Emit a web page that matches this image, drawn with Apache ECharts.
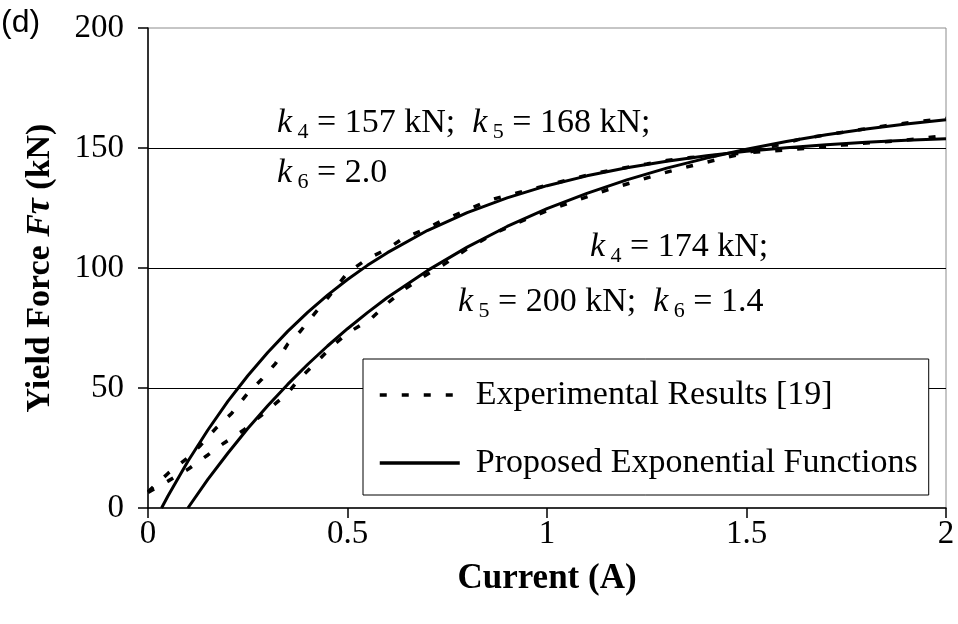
<!DOCTYPE html>
<html>
<head>
<meta charset="utf-8">
<script src="https://cdn.jsdelivr.net/npm/echarts@6/dist/echarts.min.js"></script>
<style>
html,body{margin:0;padding:0;background:#fff;}
#chart{width:958px;height:624px;}
</style>
</head>
<body>
<div id="chart"></div>
<script>
// ---- data ----
const xTicks = [0, 0.5, 1, 1.5, 2];
const yTicks = [0, 50, 100, 150, 200];

// Experimental Results [19] – set 1 (k4=157, k5=168, k6=2.0)
const expCurrent1 = [0, 0.05, 0.1, 0.13, 0.17, 0.21, 0.25, 0.285, 0.32, 0.35, 0.38, 0.42, 0.45, 0.5, 0.55, 0.6, 0.64, 0.69, 0.74, 0.8, 0.86, 0.93, 1.0, 1.06, 1.12, 1.18, 1.25, 1.3, 1.36, 1.43, 1.5, 1.56, 1.62, 1.68, 1.74, 1.81, 1.88, 1.94, 2.0];
const expForce1   = [6.8, 14.4, 21, 25.8, 33.2, 39.5, 47.8, 53.6, 60.3, 68.3, 73.3, 81.5, 87.4, 98, 103.8, 108, 112.4, 115.8, 120, 124.2, 128.5, 131.5, 134.5, 137, 139.5, 141.3, 143.3, 144.8, 146, 147, 148, 148.7, 149.5, 150.3, 151.2, 152.2, 153, 154, 155.2];

// Experimental Results [19] – set 2 (k4=174, k5=200, k6=1.4)
const expCurrent2 = [0, 0.05, 0.1, 0.15, 0.19, 0.24, 0.3, 0.35, 0.38, 0.42, 0.46, 0.5, 0.56, 0.6, 0.64, 0.69, 0.74, 0.8, 0.875, 0.95, 1.01, 1.08, 1.15, 1.22, 1.29, 1.36, 1.43, 1.5, 1.56, 1.63, 1.7, 1.79, 1.85, 1.92, 2.0];
const expForce2   = [6.5, 11.2, 16.1, 22.1, 27, 32.5, 40.8, 47.8, 54, 60.3, 67.2, 72.8, 79, 85.3, 90.8, 96.4, 101.3, 108, 115, 120.5, 124.5, 128.5, 132.5, 136, 139.5, 142.5, 145.3, 148, 150.5, 153.5, 155.5, 157.8, 159.3, 160.8, 162.3];

// Proposed Exponential Functions – curve 1
const fitCurrent1 = [0.034, 0.05, 0.1, 0.15, 0.2, 0.25, 0.3, 0.35, 0.4, 0.45, 0.5, 0.55, 0.6, 0.7, 0.8, 0.9, 1.0, 1.1, 1.2, 1.3, 1.4, 1.5, 1.6, 1.7, 1.8, 1.9, 2.0];
const fitForce1   = [0, 5.0, 19.5, 32.5, 44.4, 55.1, 64.8, 73.6, 81.5, 88.7, 95.2, 101.1, 106.4, 115.6, 123.1, 129.2, 134.3, 138.4, 141.8, 144.5, 146.8, 148.6, 150.1, 151.4, 152.4, 153.2, 153.9];

// Proposed Exponential Functions – curve 2
const fitCurrent2 = [0.1, 0.15, 0.2, 0.25, 0.3, 0.35, 0.4, 0.45, 0.5, 0.55, 0.6, 0.7, 0.8, 0.9, 1.0, 1.1, 1.2, 1.3, 1.4, 1.5, 1.6, 1.7, 1.8, 1.9, 2.0];
const fitForce2   = [0, 11.9, 22.8, 33.1, 42.6, 51.5, 59.8, 67.5, 74.7, 81.4, 87.7, 98.9, 108.7, 117.3, 124.7, 131.1, 136.7, 141.6, 145.8, 149.5, 152.7, 155.5, 157.9, 160.0, 161.8];

const expName = 'Experimental Results [19]';
const fitName = 'Proposed Exponential Functions';

function pairs(xs, ys){ return xs.map((x,i)=>[x, ys[i]]); }

const SERIF = '"Liberation Serif", "Times New Roman", serif';
const chart = echarts.init(document.getElementById('chart'));

const dashStyle = {color:'#000', width:3.5, type:[7,15]};
const solidStyle = {color:'#000', width:3};

const subRich = {
  k:{fontStyle:'italic', fontSize:34, fontFamily:SERIF, color:'#000', lineHeight:40},
  s:{fontSize:22, fontFamily:SERIF, color:'#000', lineHeight:22, verticalAlign:'bottom'},
  t:{fontSize:34, fontFamily:SERIF, color:'#000', lineHeight:40}
};
function annot(x, y, txt){
  return {type:'text', left:x, top:y, z:10,
    style:{text:txt, rich:subRich, fontSize:34, fontFamily:SERIF, fill:'#000'}};
}

const option = {
  backgroundColor:'#fff',
  animation:false,
  grid:{left:148, right:12, top:28, bottom:116, show:true, borderColor:'#8c8c8c', borderWidth:1, containLabel:false},
  xAxis:{
    type:'value', min:0, max:2, interval:0.5,
    name:'Current (A)', nameLocation:'middle', nameGap:53,
    nameTextStyle:{fontFamily:SERIF, fontWeight:'bold', fontSize:35, color:'#000'},
    axisLine:{show:true, onZero:false, lineStyle:{color:'#000', width:1.5}},
    axisTick:{show:true, inside:false, length:10, lineStyle:{color:'#000', width:1.5}},
    axisLabel:{fontFamily:SERIF, fontSize:33, color:'#000', margin:10,
      formatter:v=>xTicks.includes(v)?String(v):''},
    splitLine:{show:false}
  },
  yAxis:{
    type:'value', min:0, max:200, interval:50,
    name:'{b|Yield Force }{f|F}{tau|τ}{b| (kN)}', nameLocation:'middle', nameGap:90, nameRotate:90,
    nameTextStyle:{fontFamily:SERIF, fontWeight:'bold', fontSize:34, color:'#000',
      rich:{
        b:{fontFamily:SERIF, fontWeight:'bold', fontSize:34, color:'#000'},
        f:{fontFamily:SERIF, fontWeight:'bold', fontStyle:'italic', fontSize:34, color:'#000'},
        tau:{fontFamily:SERIF, fontWeight:'bold', fontStyle:'italic', fontSize:36, color:'#000'}
      }},
    axisLine:{show:true, onZero:false, lineStyle:{color:'#000', width:1.5}},
    axisTick:{show:true, inside:false, length:10, lineStyle:{color:'#000', width:1.5}},
    axisLabel:{fontFamily:SERIF, fontSize:33, color:'#000', margin:24,
      formatter:v=>yTicks.includes(v)?String(v):''},
    splitLine:{show:true, showMinLine:false, showMaxLine:false, lineStyle:{color:'#000', width:1}}
  },
  legend:{
    show:true, orient:'vertical', left:363, top:359,
    data:[expName, fitName],
    backgroundColor:'#fff', borderColor:'#000', borderWidth:1,
    padding:[19, 11, 15, 15],
    itemWidth:80, itemHeight:20, itemGap:34,
    itemStyle:{color:'rgba(0,0,0,0)', borderWidth:0, opacity:0},
    lineStyle:{width:3.5},
    textStyle:{fontFamily:SERIF, fontSize:34, color:'#000', lineHeight:34, padding:[0,0,0,11]},
    selectedMode:false
  },
  graphic:[
    {type:'text', left:1, top:7, style:{text:'(d)', fontSize:32, fontFamily:'"Liberation Sans", Arial, sans-serif', fill:'#000'}},
    annot(277, 106, '{k|k}{s| 4}{t| = 157 kN;  }{k|k}{s| 5}{t| = 168 kN;}'),
    annot(277, 156, '{k|k}{s| 6}{t| = 2.0}'),
    annot(590, 230, '{k|k}{s| 4}{t| = 174 kN;}'),
    annot(458, 285, '{k|k}{s| 5}{t| = 200 kN;  }{k|k}{s| 6}{t| = 1.4}')
  ],
  series:[
    {name:expName, type:'line', data:pairs(expCurrent1, expForce1), symbol:'none', smooth:false, lineStyle:dashStyle, itemStyle:{color:'#000'}, z:3},
    {name:expName, type:'line', data:pairs(expCurrent2, expForce2), symbol:'none', smooth:false, lineStyle:dashStyle, itemStyle:{color:'#000'}, z:3},
    {name:fitName, type:'line', data:pairs(fitCurrent1, fitForce1), symbol:'none', smooth:false, lineStyle:solidStyle, itemStyle:{color:'#000'}, z:4},
    {name:fitName, type:'line', data:pairs(fitCurrent2, fitForce2), symbol:'none', smooth:false, lineStyle:solidStyle, itemStyle:{color:'#000'}, z:4}
  ]
};
chart.setOption(option);
</script>
</body>
</html>
